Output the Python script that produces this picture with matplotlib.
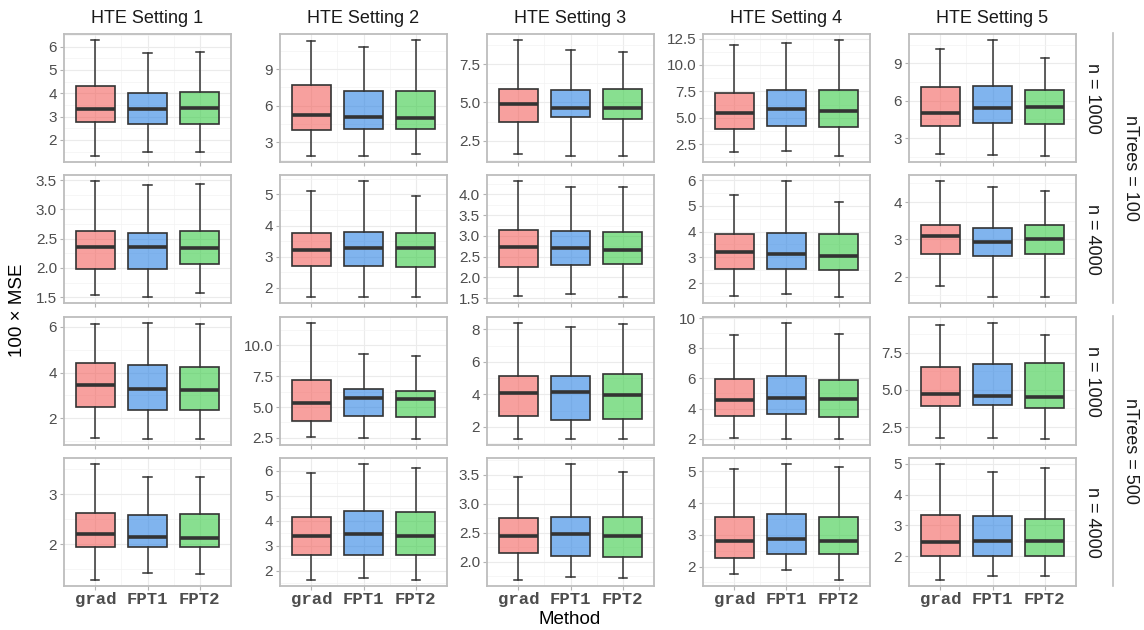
import matplotlib
matplotlib.use("Agg")
import matplotlib.pyplot as plt
from matplotlib.ticker import AutoMinorLocator

# ---- data ----
methods = ["grad", "FPT1", "FPT2"]
settings = ["HTE Setting 1", "HTE Setting 2", "HTE Setting 3", "HTE Setting 4", "HTE Setting 5"]
n_labels = ["n = 1000", "n = 4000", "n = 1000", "n = 4000"]
tree_labels = ["nTrees = 100", "nTrees = 500"]

# each row = one facet row, each inner list = one panel, values for grad / FPT1 / FPT2
whis_lo = [
    [[1.30, 1.49, 1.50], [1.88, 1.85, 1.99], [1.62, 1.51, 1.47], [1.71, 1.87, 1.36], [1.71, 1.65, 1.55]],
    [[1.53, 1.50, 1.57], [1.71, 1.70, 1.69], [1.55, 1.60, 1.52], [1.49, 1.59, 1.45], [1.75, 1.46, 1.45]],
    [[1.15, 1.09, 1.08], [2.60, 2.47, 2.39], [1.28, 1.26, 1.24], [2.02, 1.96, 1.96], [1.80, 1.78, 1.69]],
    [[1.28, 1.42, 1.41], [1.65, 1.71, 1.63], [1.68, 1.73, 1.72], [1.76, 1.90, 1.57], [1.22, 1.36, 1.34]],
]
q1 = [
    [[2.76, 2.70, 2.67], [3.98, 4.04, 4.04], [3.73, 4.04, 3.90], [3.96, 4.18, 4.11], [4.00, 4.24, 4.11]],
    [[1.99, 1.99, 2.06], [2.70, 2.68, 2.66], [2.26, 2.30, 2.31], [2.56, 2.56, 2.50], [2.61, 2.55, 2.61]],
    [[2.47, 2.36, 2.38], [3.90, 4.27, 4.17], [2.64, 2.45, 2.49], [3.51, 3.65, 3.44], [3.93, 3.98, 3.76]],
    [[1.94, 1.95, 1.95], [2.65, 2.65, 2.65], [2.15, 2.10, 2.08], [2.26, 2.40, 2.40], [2.00, 2.00, 2.01]],
]
med = [
    [[3.34, 3.33, 3.36], [5.23, 5.05, 5.02], [4.89, 4.67, 4.67], [5.44, 5.79, 5.66], [5.01, 5.41, 5.47]],
    [[2.36, 2.36, 2.34], [3.22, 3.29, 3.27], [2.73, 2.70, 2.67], [3.19, 3.14, 3.05], [3.09, 2.93, 3.00]],
    [[3.46, 3.27, 3.24], [5.30, 5.77, 5.62], [4.06, 4.14, 3.94], [4.56, 4.67, 4.62], [4.69, 4.60, 4.51]],
    [[2.21, 2.15, 2.13], [3.40, 3.48, 3.41], [2.45, 2.47, 2.45], [2.82, 2.86, 2.82], [2.45, 2.48, 2.48]],
]
q3 = [
    [[4.33, 4.01, 4.04], [7.66, 7.23, 7.17], [5.88, 5.83, 5.90], [7.34, 7.66, 7.66], [7.07, 7.15, 6.85]],
    [[2.64, 2.60, 2.64], [3.75, 3.80, 3.77], [3.15, 3.13, 3.09], [3.92, 3.95, 3.89], [3.39, 3.31, 3.39]],
    [[4.41, 4.31, 4.26], [7.20, 6.50, 6.26], [5.13, 5.15, 5.26], [5.98, 6.18, 5.91], [6.50, 6.72, 6.78]],
    [[2.62, 2.59, 2.60], [4.15, 4.39, 4.36], [2.76, 2.77, 2.77], [3.57, 3.67, 3.57], [3.34, 3.29, 3.20]],
]
whis_hi = [
    [[6.29, 5.71, 5.77], [11.29, 10.83, 11.40], [9.12, 8.42, 8.29], [11.90, 12.06, 12.38], [10.17, 10.89, 9.45]],
    [[3.49, 3.42, 3.44], [5.12, 5.44, 4.94], [4.33, 4.18, 4.18], [5.43, 5.97, 5.14], [4.57, 4.40, 4.30]],
    [[6.12, 6.18, 6.12], [11.83, 9.30, 9.14], [8.41, 8.16, 8.35], [8.90, 9.70, 8.96], [9.32, 9.49, 8.67]],
    [[3.61, 3.35, 3.35], [5.91, 6.27, 6.12], [3.46, 3.69, 3.55], [5.08, 5.24, 5.15], [5.00, 4.74, 4.85]],
]
yticks = [
    [["2", "3", "4", "5", "6"], ["3", "6", "9"], ["2.5", "5.0", "7.5"], ["2.5", "5.0", "7.5", "10.0", "12.5"], ["3", "6", "9"]],
    [["1.5", "2.0", "2.5", "3.0", "3.5"], ["2", "3", "4", "5"], ["1.5", "2.0", "2.5", "3.0", "3.5", "4.0"], ["2", "3", "4", "5", "6"], ["2", "3", "4"]],
    [["2", "4", "6"], ["2.5", "5.0", "7.5", "10.0"], ["2", "4", "6", "8"], ["2", "4", "6", "8", "10"], ["2.5", "5.0", "7.5"]],
    [["2", "3"], ["2", "3", "4", "5", "6"], ["2.0", "2.5", "3.0", "3.5"], ["2", "3", "4", "5"], ["2", "3", "4", "5"]],
]

fills = ["#F3615D", "#2B82E3", "#39CB46"]

W, H = 1144, 630
fig = plt.figure(figsize=(W / 100, H / 100), dpi=100)
plt.rcParams["font.family"] = ["Liberation Sans", "DejaVu Sans"]

col_left = [64, 280, 487, 703, 909]
row_top = [34, 175, 317, 458]
pw, ph = 167, 128

for r in range(4):
    for c in range(5):
        ax = fig.add_axes([col_left[c] / W, 1 - (row_top[r] + ph) / H, pw / W, ph / H])
        stats = []
        for k in range(3):
            stats.append(dict(med=med[r][c][k], q1=q1[r][c][k], q3=q3[r][c][k],
                              whislo=whis_lo[r][c][k], whishi=whis_hi[r][c][k], fliers=[]))
        bp = ax.bxp(stats, positions=[1, 2, 3], widths=0.75, capwidths=0.16,
                    patch_artist=True, showfliers=False,
                    boxprops=dict(edgecolor="#333333", linewidth=1.2),
                    whiskerprops=dict(color="#333333", linewidth=1.1),
                    capprops=dict(color="#333333", linewidth=1.1),
                    medianprops=dict(color="#333333", linewidth=2.6, solid_capstyle="butt"))
        for patch, col in zip(bp["boxes"], fills):
            patch.set_facecolor(matplotlib.colors.to_rgba(col, 0.6))
        lo = min(whis_lo[r][c])
        hi = max(whis_hi[r][c])
        pad = 0.05 * (hi - lo)
        ax.set_ylim(lo - pad, hi + pad)
        ax.set_xlim(0.4, 3.6)
        tv = [float(t) for t in yticks[r][c]]
        ax.set_yticks(tv)
        ax.set_yticklabels(yticks[r][c], fontsize=11, color="#4D4D4D")
        ax.yaxis.set_minor_locator(AutoMinorLocator(2))
        ax.set_xticks([1, 2, 3])
        ax.set_xticks([1.5, 2.5], minor=True)
        if r == 3:
            ax.set_xticklabels(methods, fontsize=12.5, color="#4D4D4D",
                               family="Liberation Mono", fontweight="bold")
        else:
            ax.set_xticklabels([])
        ax.tick_params(which="major", length=3, width=0.8, color="#B3B3B3", pad=2)
        ax.tick_params(axis="x", which="major", pad=1)
        ax.tick_params(which="minor", length=0)
        ax.grid(which="major", color="#EBEBEB", linewidth=0.8)
        ax.grid(which="minor", color="#F3F3F3", linewidth=0.5)
        ax.set_axisbelow(True)
        for s in ax.spines.values():
            s.set_color("#BDBDBD")
            s.set_linewidth(1.3)
        if r == 0:
            ax.set_title(settings[c], fontsize=13, color="#1A1A1A", pad=8)
        if c == 4:
            ax.text(1.096, 0.5, n_labels[r], transform=ax.transAxes, rotation=-90,
                    ha="center", va="center", fontsize=13, color="#1A1A1A")

# outer nTrees strips with a separator line
for i, lab in enumerate(tree_labels):
    top = row_top[2 * i] - 1
    bot = row_top[2 * i + 1] + ph
    fig.add_artist(plt.Line2D([1113 / W, 1113 / W], [1 - top / H, 1 - bot / H],
                              color="#BDBDBD", linewidth=1.2))
    fig.text(1131 / W, 1 - (top + bot) / 2 / H, lab, rotation=-90, ha="center", va="center",
             fontsize=13, color="#1A1A1A")

fig.text(18 / W, 1 - 310 / H, "100 × MSE", rotation=90, ha="center", va="center",
         fontsize=13.5, color="black")
fig.text(570 / W, 1 - 619 / H, "Method", ha="center", va="center", fontsize=13.5, color="black")

fig.savefig("out.png", dpi=100)
